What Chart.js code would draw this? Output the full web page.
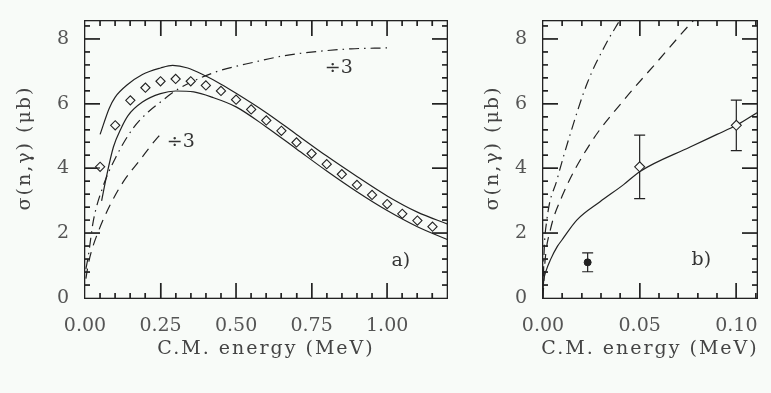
<!DOCTYPE html>
<html>
<head>
<meta charset="utf-8">
<script src="https://cdn.jsdelivr.net/npm/chart.js@4.4.1/dist/chart.umd.min.js"></script>
<style>
  body { margin: 0; background: #f8fbf8; }
  #wrap { position: relative; width: 771px; height: 393px; }
  canvas { position: absolute; top: 0; }
</style>
</head>
<body>
<div id="wrap">
  <canvas id="chartA" width="470" height="393" style="left:0px"></canvas>
  <canvas id="chartB" width="301" height="393" style="left:470px"></canvas>
</div>
<script>
// PANEL a) DATOS
const diamondX = [0.05, 0.10, 0.15, 0.20, 0.25, 0.30, 0.35, 0.40, 0.45, 0.50, 0.55, 0.60,
                  0.65, 0.70, 0.75, 0.80, 0.85, 0.90, 0.95, 1.00, 1.05, 1.10, 1.15]
const diamondY = [4.05, 5.33, 6.10, 6.49, 6.69, 6.76, 6.69, 6.56, 6.39, 6.12, 5.82, 5.48,
                  5.16, 4.80, 4.46, 4.13, 3.82, 3.49, 3.18, 2.90, 2.60, 2.39, 2.20]

const upperX = [0.05, 0.08, 0.10, 0.14, 0.19, 0.25, 0.29, 0.34, 0.40, 0.45, 0.50, 0.60, 0.70, 0.80, 0.90, 1.00, 1.10, 1.20]
const upperY = [5.05, 5.85, 6.20, 6.58, 6.90, 7.10, 7.18, 7.10, 6.85, 6.60, 6.32, 5.72, 5.05, 4.38, 3.75, 3.15, 2.65, 2.28]

const lowerX = [0.055, 0.07, 0.094, 0.12, 0.143, 0.19, 0.25, 0.30, 0.36, 0.42, 0.50, 0.60, 0.70, 0.80, 0.90, 1.00, 1.10, 1.20]
const lowerY = [3.00, 3.70, 4.66, 5.25, 5.64, 6.05, 6.31, 6.39, 6.36, 6.20, 5.90, 5.28, 4.60, 3.92, 3.28, 2.70, 2.20, 1.80]

const dashDotAX = [0.003, 0.011, 0.027, 0.06, 0.105, 0.16, 0.21, 0.25, 0.30, 0.36, 0.44, 0.56, 0.66, 0.78, 0.88, 1.00]
const dashDotAY = [0.90, 1.30, 2.35, 3.45, 4.40, 5.25, 5.75, 6.05, 6.40, 6.70, 7.00, 7.28, 7.48, 7.62, 7.69, 7.72]

const dashedAX = [0.003, 0.01, 0.02, 0.044, 0.083, 0.127, 0.182, 0.237, 0.25]
const dashedAY = [0.60, 1.00, 1.40, 2.05, 2.87, 3.59, 4.26, 4.92, 5.05]

// PANEL b) DATOS
const solidBX = [0, 0.0003, 0.0015, 0.004, 0.0075, 0.0098, 0.0176, 0.0295, 0.0417, 0.05, 0.0761, 0.09, 0.10, 0.1107]
const solidBY = [0.20, 0.50, 0.82, 1.20, 1.60, 1.79, 2.41, 2.97, 3.50, 3.90, 4.66, 5.05, 5.33, 5.72]

const dashedBX = [0, 0.001, 0.0038, 0.0098, 0.0245, 0.0417, 0.0589, 0.076, 0.08]
const dashedBY = [0, 1.10, 2.10, 3.13, 4.77, 6.10, 7.28, 8.45, 8.70]

const dashDotBX = [0, 0.0005, 0.002, 0.0072, 0.0142, 0.0228, 0.0326, 0.039, 0.042]
const dashDotBY = [0, 1.30, 2.41, 3.64, 5.08, 6.62, 7.85, 8.50, 8.80]

const measX = [0.05, 0.10]
const measY = [4.05, 5.33]
const measErr = [0.98, 0.78]

const filledX = [0.0231]
const filledY = [1.10]
const filledErr = [0.29]

// TEXTOS
const xTitle = "C.M. energy (MeV)"
const yTitle = "σ(n,γ) (μb)"

const ink = "#222"
const paper = "#f8fbf8"
const fontFamily = "'DejaVu Serif', 'Liberation Serif', serif"

const frameSettings = {}

function toPoints(xs, ys) {
    return xs.map((x, i) => ({ x: x, y: ys[i] }))
}

function lineSet(xs, ys, dash) {
    return {
        type: 'line',
        data: toPoints(xs, ys),
        borderColor: ink,
        borderWidth: 1.2,
        borderDash: dash,
        pointRadius: 0,
        fill: false,
        cubicInterpolationMode: 'monotone'
    }
}

function isMajor(v, step) {
    return Math.abs(v / step - Math.round(v / step)) < 1e-6
}

// lista de ticks [valor, largo] para un eje
function tickList(max, minor, major) {
    const out = []
    const n = Math.floor(max / minor + 1e-6)
    for (let i = 1; i <= n; i++) {
        const v = i * minor
        out.push([v, isMajor(v, major) ? 15 : 5])
    }
    return out
}

// TICKS HACIA DENTRO (trazo)
function strokeTicks(chart, s) {
    const ctx = chart.ctx
    const a = chart.chartArea
    const xs = chart.scales.x
    const ys = chart.scales.y
    ctx.save()
    ctx.setLineDash([])
    ctx.strokeStyle = ink
    ctx.lineWidth = 1.2
    ctx.beginPath()
    tickList(s.xMax, s.xMinor, s.xMajor).forEach(t => {
        const px = xs.getPixelForValue(t[0])
        ctx.moveTo(px, a.bottom); ctx.lineTo(px, a.bottom - t[1])
        ctx.moveTo(px, a.top); ctx.lineTo(px, a.top + t[1])
    })
    tickList(s.yMax, s.yMinor, s.yMajor).forEach(t => {
        const py = ys.getPixelForValue(t[0])
        ctx.moveTo(a.left, py); ctx.lineTo(a.left + t[1], py)
        ctx.moveTo(a.right, py); ctx.lineTo(a.right - t[1], py)
    })
    ctx.stroke()
    ctx.restore()
}

// MARCO, TICKS (relleno) Y TEXTOS
function drawFrameAndTexts(chart, s) {
    const ctx = chart.ctx
    const a = chart.chartArea
    const xs = chart.scales.x
    const ys = chart.scales.y
    const L = Math.round(a.left), R = Math.round(a.right)
    const T = Math.round(a.top), B = Math.round(a.bottom)
    ctx.save()
    ctx.fillStyle = ink
    ctx.fillRect(L - 1, T - 1, R - L + 2, 1.3)
    ctx.fillRect(L - 1, B - 0.3, R - L + 2, 1.3)
    ctx.fillRect(L - 1, T - 1, 1.3, B - T + 2)
    ctx.fillRect(R - 0.3, T - 1, 1.3, B - T + 2)
    tickList(s.xMax, s.xMinor, s.xMajor).forEach(t => {
        const px = Math.round(xs.getPixelForValue(t[0]))
        ctx.fillRect(px - 0.6, B - t[1], 1.2, t[1])
        ctx.fillRect(px - 0.6, T, 1.2, t[1])
    })
    tickList(s.yMax, s.yMinor, s.yMajor).forEach(t => {
        const py = Math.round(ys.getPixelForValue(t[0]))
        ctx.fillRect(L, py - 0.6, t[1], 1.2)
        ctx.fillRect(R - t[1], py - 0.6, t[1], 1.2)
    })

    ctx.fillStyle = "#333"
    ctx.font = "19px " + fontFamily
    ctx.textAlign = 'center'
    ctx.textBaseline = 'middle'
    s.notes.forEach(n => {
        ctx.fillText(n.text, xs.getPixelForValue(n.x), ys.getPixelForValue(n.y))
    })
    ctx.fillStyle = "#444"
    ctx.textBaseline = 'alphabetic'
    ctx.letterSpacing = "2px"
    ctx.fillText(xTitle, (a.left + a.right) / 2, s.xTitleBase)
    ctx.translate(s.yTitleBase, s.yTitleMid)
    ctx.rotate(-Math.PI / 2)
    ctx.fillText(yTitle, 0, 0)
    ctx.restore()
}

function drawErrors(chart, s) {
    const ctx = chart.ctx
    const xs = chart.scales.x
    const ys = chart.scales.y
    ctx.save()
    ctx.strokeStyle = ink
    ctx.lineWidth = 1.2
    s.errors.forEach(e => {
        e.x.forEach((xv, i) => {
            const px = xs.getPixelForValue(xv)
            const top = ys.getPixelForValue(e.y[i] + e.err[i])
            const bot = ys.getPixelForValue(e.y[i] - e.err[i])
            ctx.beginPath()
            ctx.moveTo(px, top); ctx.lineTo(px, bot)
            ctx.moveTo(px - 5.5, top); ctx.lineTo(px + 5.5, top)
            ctx.moveTo(px - 5.5, bot); ctx.lineTo(px + 5.5, bot)
            ctx.stroke()
        })
    })
    ctx.restore()
}

const framePlugin = {
    id: 'frameTicks',
    beforeDatasetsDraw(chart) {
        const s = frameSettings[chart.canvas.id]
        strokeTicks(chart, s)
        drawErrors(chart, s)
    },
    afterDatasetsDraw(chart) {
        drawFrameAndTexts(chart, frameSettings[chart.canvas.id])
    }
}

function makeConfig(datasets, s, yAxisWidth, padRight) {
    return {
        type: 'line',
        data: { datasets: datasets },
        options: {
            responsive: false,
            animation: false,
            events: [],
            layout: { padding: { left: 0, right: padRight, top: 21, bottom: 0 } },
            plugins: { legend: { display: false }, tooltip: { enabled: false } },
            scales: {
                x: {
                    type: 'linear', min: 0, max: s.xMax,
                    afterFit: sc => { sc.height = 95 },
                    grid: { display: false }, border: { display: false },
                    ticks: {
                        stepSize: s.xMajor, includeBounds: false, autoSkip: false, maxRotation: 0,
                        padding: 9, color: "#555", font: { family: fontFamily, size: 19 },
                        callback: v => Number(v).toFixed(2)
                    }
                },
                y: {
                    type: 'linear', min: 0, max: s.yMax,
                    afterFit: sc => { sc.width = yAxisWidth },
                    grid: { display: false }, border: { display: false },
                    ticks: {
                        stepSize: s.yMajor, includeBounds: false, padding: 8,
                        color: "#555", font: { family: fontFamily, size: 19 },
                        callback: v => String(Math.round(v))
                    }
                }
            }
        },
        plugins: [framePlugin]
    }
}

function renderA() {
    frameSettings.chartA = {
        xMax: 1.198, xMinor: 0.05, xMajor: 0.25, yMax: 8.55, yMinor: 0.4, yMajor: 2,
        xTitleBase: 354, yTitleBase: 30, yTitleMid: 148,
        errors: [],
        notes: [
            { text: "÷3", x: 0.317, y: 4.82 },
            { text: "÷3", x: 0.84, y: 7.1 },
            { text: "a)", x: 1.045, y: 1.15 }
        ]
    }
    const datasets = [
        {
            data: toPoints(diamondX, diamondY), showLine: false,
            pointStyle: 'rectRot', pointRadius: 4.6, pointBorderWidth: 1.1,
            pointBorderColor: ink, pointBackgroundColor: paper
        },
        lineSet(upperX, upperY, []),
        lineSet(lowerX, lowerY, []),
        lineSet(dashDotAX, dashDotAY, [10, 5, 1.5, 5]),
        lineSet(dashedAX, dashedAY, [10, 7])
    ]
    new Chart(document.getElementById("chartA"), makeConfig(datasets, frameSettings.chartA, 85, 23))
}

function renderB() {
    frameSettings.chartB = {
        xMax: 0.1107, xMinor: 0.01, xMajor: 0.05, yMax: 8.55, yMinor: 0.4, yMajor: 2,
        xTitleBase: 354, yTitleBase: 28, yTitleMid: 148,
        errors: [
            { x: measX, y: measY, err: measErr },
            { x: filledX, y: filledY, err: filledErr }
        ],
        notes: [{ text: "b)", x: 0.0819, y: 1.18 }]
    }
    const datasets = [
        {
            data: toPoints(measX, measY), showLine: false,
            pointStyle: 'rectRot', pointRadius: 5, pointBorderWidth: 1.1,
            pointBorderColor: ink, pointBackgroundColor: paper
        },
        {
            data: toPoints(filledX, filledY), showLine: false,
            pointStyle: 'circle', pointRadius: 3.5, pointBorderWidth: 1,
            pointBorderColor: ink, pointBackgroundColor: ink
        },
        lineSet(solidBX, solidBY, []),
        lineSet(dashDotBX, dashDotBY, [10, 5, 1.5, 5]),
        lineSet(dashedBX, dashedBY, [10, 7])
    ]
    new Chart(document.getElementById("chartB"), makeConfig(datasets, frameSettings.chartB, 73, 14))
}

renderA()
renderB()
</script>
</body>
</html>
